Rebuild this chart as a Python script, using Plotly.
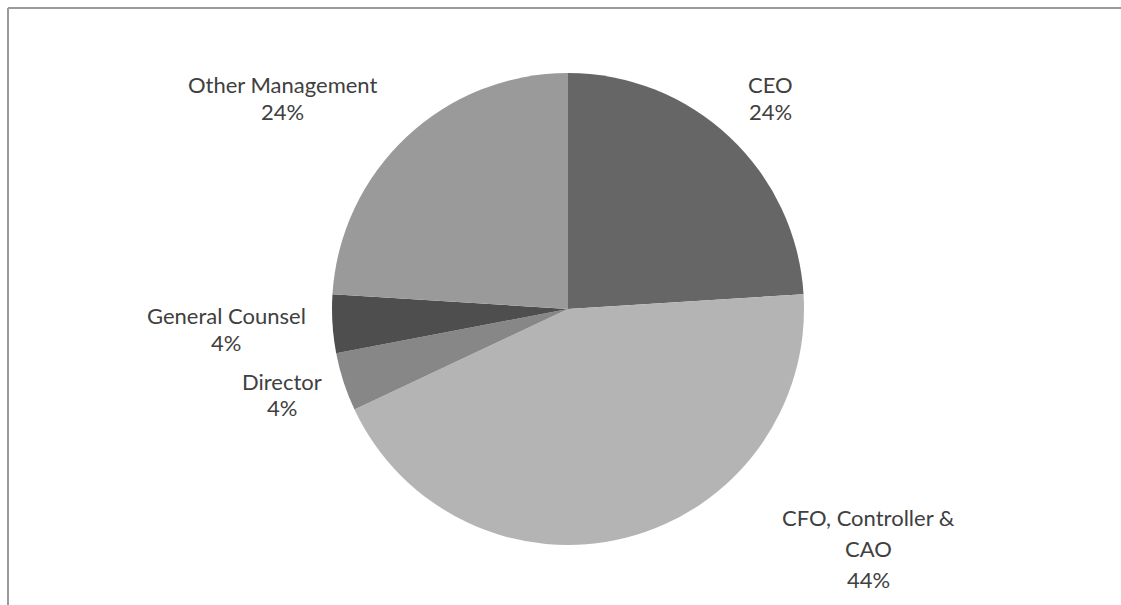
import plotly.graph_objects as go

W, H = 1121, 605

labels = ["CEO", "CFO, Controller & CAO", "Director", "General Counsel", "Other Management"]
values = [24, 44, 4, 4, 24]
colors = ["#666666", "#b4b4b4", "#878787", "#4e4e4e", "#9a9a9a"]

# label text lines and their pixel anchor (center x, first-line y), line spacing
label_lines = [["CEO"], ["CFO, Controller &", "CAO"], ["Director"], ["General Counsel"], ["Other Management"]]
label_pos = [(770, 85, 26), (868, 517, 31), (282, 381, 27), (226, 315, 27), (282, 85, 26)]

cx, cy, r = 568, 309, 236

def px(x):
    return x / W

def py(y):
    return 1 - y / H

fig = go.Figure(go.Pie(
    labels=labels,
    values=values,
    sort=False,
    direction="clockwise",
    rotation=0,
    marker=dict(colors=colors, line=dict(width=0)),
    textinfo="none",
    hoverinfo="label+percent",
    showlegend=False,
    domain=dict(x=[px(cx - r), px(cx + r)], y=[py(cy + r), py(cy - r)]),
))

annotations = []
total = sum(values)
for lines, v, (x, y, dy) in zip(label_lines, values, label_pos):
    texts = lines + [f"{round(100 * v / total)}%"]
    for i, t in enumerate(texts):
        annotations.append(dict(
            x=px(x), y=py(y + i * dy), xref="paper", yref="paper",
            text=t, showarrow=False, xanchor="center", yanchor="middle",
            font=dict(family="Lato, Open Sans, sans-serif", size=22, color="#404040"),
        ))

shapes = [
    dict(type="line", xref="paper", yref="paper", x0=px(8), x1=px(8), y0=0, y1=py(8),
         line=dict(color="#9a9a9a", width=2)),
    dict(type="line", xref="paper", yref="paper", x0=px(8), x1=1, y0=py(8), y1=py(8),
         line=dict(color="#9a9a9a", width=2)),
]

fig.update_layout(
    width=W, height=H,
    margin=dict(l=0, r=0, t=0, b=0),
    paper_bgcolor="white",
    plot_bgcolor="white",
    annotations=annotations,
    shapes=shapes,
)

fig.write_html("out.html")
